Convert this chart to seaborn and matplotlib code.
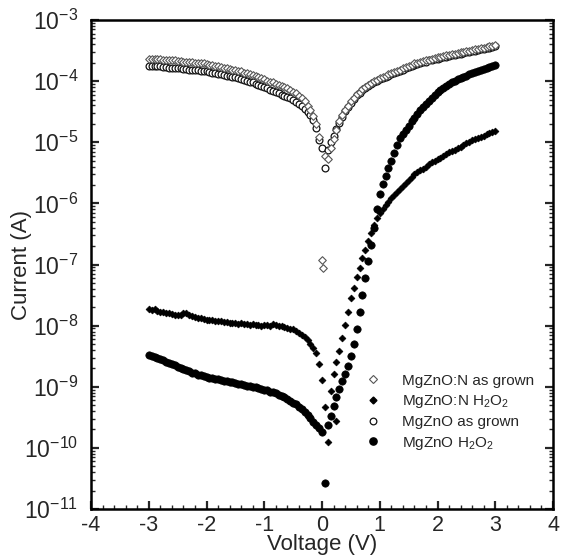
import numpy as np
import pandas as pd
import matplotlib
matplotlib.use("Agg")
import matplotlib.pyplot as plt
from matplotlib.lines import Line2D
from matplotlib.ticker import MultipleLocator, FixedLocator, NullFormatter
import seaborn as sns

# ---------------- data (log10 of |current| in A) ----------------
voltage = np.round(np.linspace(-3.0, 3.0, 121), 2)

mgznon_grown_log = [
    -3.63, -3.63, -3.64, -3.64, -3.64, -3.65, -3.65, -3.66, -3.66, -3.66,
    -3.67, -3.67, -3.68, -3.68, -3.69, -3.69, -3.70, -3.70, -3.71, -3.71,
    -3.72, -3.73, -3.74, -3.75, -3.76, -3.77, -3.78, -3.79, -3.80, -3.81,
    -3.82, -3.83, -3.84, -3.86, -3.87, -3.88, -3.90, -3.91, -3.93, -3.95,
    -3.97, -3.99, -4.01, -4.02, -4.04, -4.06, -4.08, -4.10, -4.12, -4.14,
    -4.17, -4.20, -4.24, -4.28, -4.33, -4.40, -4.47, -4.57, -4.70, -4.92,
    -6.92,
    -5.22, -5.28, -5.10, -4.95, -4.80, -4.65, -4.55, -4.47, -4.40, -4.33,
    -4.27, -4.21, -4.17, -4.13, -4.09, -4.06, -4.03, -4.00, -3.98, -3.95,
    -3.93, -3.91, -3.89, -3.87, -3.85, -3.83, -3.81, -3.79, -3.77, -3.75,
    -3.73, -3.71, -3.70, -3.68, -3.67, -3.66, -3.65, -3.63, -3.62, -3.61,
    -3.60, -3.59, -3.58, -3.57, -3.56, -3.55, -3.54, -3.53, -3.52, -3.51,
    -3.50, -3.49, -3.48, -3.47, -3.46, -3.45, -3.44, -3.43, -3.42, -3.41,
]

mgznon_h2o2_log = [
    -7.72, -7.74, -7.73, -7.76, -7.77, -7.78, -7.80, -7.79, -7.81, -7.82,
    -7.83, -7.82, -7.80, -7.79, -7.83, -7.85, -7.86, -7.87, -7.88, -7.89,
    -7.90, -7.90, -7.91, -7.92, -7.92, -7.93, -7.94, -7.94, -7.95, -7.96,
    -7.96, -7.97, -7.96, -7.98, -7.98, -7.99, -7.98, -7.99, -7.99, -8.00,
    -7.99, -7.99, -8.00, -7.98, -7.99, -8.01, -8.01, -8.02, -8.04, -8.05,
    -8.06, -8.09, -8.12, -8.15, -8.19, -8.24, -8.30, -8.36, -8.45, -8.62,
    -8.89,
    -9.33, -9.91, -9.07, -8.79, -8.60, -8.41, -8.21, -7.99, -7.78, -7.55,
    -7.38, -7.21, -7.05, -6.90, -6.76, -6.62, -6.48, -6.35, -6.24, -6.16,
    -6.09, -6.02, -5.97, -5.92, -5.87, -5.82, -5.77, -5.72, -5.67, -5.62,
    -5.57, -5.52, -5.49, -5.46, -5.43, -5.40, -5.36, -5.33, -5.30, -5.27,
    -5.25, -5.22, -5.19, -5.16, -5.14, -5.12, -5.09, -5.07, -5.04, -5.02,
    -4.99, -4.97, -4.95, -4.93, -4.91, -4.89, -4.87, -4.85, -4.83, -4.81,
]

mgzno_grown_log = [
    -3.75, -3.75, -3.76, -3.76, -3.76, -3.77, -3.77, -3.78, -3.78, -3.78,
    -3.79, -3.79, -3.80, -3.80, -3.81, -3.81, -3.82, -3.82, -3.83, -3.83,
    -3.84, -3.85, -3.86, -3.87, -3.88, -3.89, -3.90, -3.91, -3.92, -3.93,
    -3.94, -3.95, -3.97, -3.98, -3.99, -4.01, -4.02, -4.04, -4.06, -4.08,
    -4.10, -4.12, -4.14, -4.16, -4.18, -4.20, -4.22, -4.24, -4.26, -4.28,
    -4.31, -4.34, -4.37, -4.41, -4.45, -4.50, -4.56, -4.64, -4.76, -4.96,
    -5.10,
    -5.42, -5.13, -5.00, -4.89, -4.79, -4.68, -4.58, -4.49, -4.42, -4.35,
    -4.29, -4.23, -4.19, -4.15, -4.11, -4.08, -4.05, -4.02, -3.99, -3.97,
    -3.95, -3.93, -3.91, -3.89, -3.87, -3.85, -3.83, -3.81, -3.79, -3.77,
    -3.75, -3.73, -3.72, -3.70, -3.69, -3.68, -3.66, -3.65, -3.64, -3.63,
    -3.62, -3.61, -3.60, -3.59, -3.58, -3.57, -3.56, -3.55, -3.54, -3.53,
    -3.52, -3.51, -3.50, -3.49, -3.48, -3.47, -3.46, -3.45, -3.44, -3.43,
]

mgzno_h2o2_log = [
    -8.48, -8.49, -8.51, -8.53, -8.55, -8.57, -8.59, -8.61, -8.63, -8.65,
    -8.67, -8.69, -8.71, -8.73, -8.75, -8.77, -8.78, -8.80, -8.81, -8.83,
    -8.84, -8.85, -8.86, -8.87, -8.88, -8.89, -8.90, -8.91, -8.92, -8.93,
    -8.94, -8.95, -8.96, -8.97, -8.98, -8.99, -9.00, -9.01, -9.02, -9.04,
    -9.05, -9.06, -9.08, -9.09, -9.11, -9.13, -9.15, -9.17, -9.20, -9.23,
    -9.26, -9.29, -9.33, -9.37, -9.41, -9.46, -9.51, -9.57, -9.62, -9.68,
    -9.74,
    -10.58, -9.62, -9.48, -9.32, -9.17, -9.04, -8.91, -8.79, -8.66, -8.50,
    -8.30, -8.05, -7.78, -7.50, -7.22, -6.95, -6.68, -6.40, -6.10, -5.85,
    -5.68, -5.55, -5.42, -5.30, -5.18, -5.05, -4.93, -4.86, -4.80, -4.73,
    -4.66, -4.60, -4.53, -4.47, -4.42, -4.37, -4.32, -4.27, -4.22, -4.18,
    -4.14, -4.11, -4.08, -4.05, -4.02, -3.99, -3.97, -3.95, -3.93, -3.91,
    -3.89, -3.87, -3.85, -3.84, -3.82, -3.80, -3.79, -3.77, -3.76, -3.74,
]

# extra points recorded near the zero-current crossing
extra_n_grown_v = [0.02]
extra_n_grown_log = [-7.05]
extra_n_h2o2_v = [0.25]
extra_n_h2o2_log = [-9.56]

series_names = ["MgZnO:N as grown", "MgZnO:N H$_2$O$_2$",
                "MgZnO as grown", "MgZnO H$_2$O$_2$"]

x_tick_values = [-4, -3, -2, -1, 0, 1, 2, 3, 4]
y_tick_exponents = [-11, -10, -9, -8, -7, -6, -5, -4, -3]

# ---------------- build tidy frame ----------------
frames = []
for name, logs, xv in [
    (series_names[0], mgznon_grown_log + extra_n_grown_log, list(voltage) + extra_n_grown_v),
    (series_names[1], mgznon_h2o2_log + extra_n_h2o2_log, list(voltage) + extra_n_h2o2_v),
    (series_names[2], mgzno_grown_log, list(voltage)),
    (series_names[3], mgzno_h2o2_log, list(voltage)),
]:
    frames.append(pd.DataFrame({"V": xv, "I": 10.0 ** np.array(logs), "series": name}))
df = pd.concat(frames, ignore_index=True)

# ---------------- style ----------------
sns.set_theme(style="ticks")
plt.rcParams["font.family"] = ["Liberation Sans", "DejaVu Sans"]
plt.rcParams["mathtext.default"] = "regular"
plt.rcParams["axes.linewidth"] = 1.8

fig = plt.figure(figsize=(5.68, 5.58), dpi=100)
ax = fig.add_axes([91 / 568, 1 - 509 / 558, 462 / 568, 489 / 558])

styles = {
    series_names[2]: dict(marker="o", s=24, facecolor="white", edgecolor="#111111", linewidth=0.9),
    series_names[0]: dict(marker="D", s=15, facecolor="white", edgecolor="#555555", linewidth=0.8),
    series_names[3]: dict(marker="o", s=28, facecolor="black", edgecolor="black", linewidth=0.5),
    series_names[1]: dict(marker="D", s=12, facecolor="black", edgecolor="black", linewidth=0.5),
}
for name in [series_names[2], series_names[0], series_names[3], series_names[1]]:
    st = styles[name]
    sub = df[df["series"] == name]
    sns.scatterplot(data=sub, x="V", y="I", ax=ax, marker=st["marker"], s=st["s"],
                    color=st["facecolor"], edgecolor=st["edgecolor"],
                    linewidth=st["linewidth"], legend=False, zorder=3)

ax.set_yscale("log")
ax.set_xlim(-4, 4)
ax.set_ylim(1e-11, 1e-3)

# ticks: only inside the visible range
ax.set_xticks(x_tick_values)
ax.set_xticklabels([str(v) for v in x_tick_values])
ax.xaxis.set_minor_locator(MultipleLocator(0.2))
ax.xaxis.set_minor_formatter(NullFormatter())
y_major = [10.0 ** e for e in y_tick_exponents]
ax.set_yticks(y_major)
ax.set_yticklabels([f"$10^{{{e}}}$" for e in y_tick_exponents])
y_minor = [m * 10.0 ** e for e in y_tick_exponents[:-1] for m in range(2, 10)]
ax.yaxis.set_minor_locator(FixedLocator(y_minor))
ax.yaxis.set_minor_formatter(NullFormatter())

ax.tick_params(axis="both", which="major", direction="in", length=6, width=1.6,
               top=False, right=True)
ax.tick_params(axis="x", which="major", labelsize=15.5, pad=4)
ax.tick_params(axis="y", which="major", labelsize=16.5, pad=9)
ax.tick_params(axis="both", which="minor", direction="in", length=3, width=1.0,
               top=False, right=True)
for sp in ax.spines.values():
    sp.set_linewidth(1.8)
    sp.set_color("black")

ax.set_xlabel("Voltage (V)", fontsize=16)
ax.set_ylabel("Current (A)", fontsize=16)
ax.xaxis.set_label_coords(0.5, -0.052)
ax.yaxis.set_label_coords(-0.128, 0.5)

handles = [
    Line2D([], [], linestyle="none", marker="D", markersize=3.8, markerfacecolor="white",
           markeredgecolor="#555555", markeredgewidth=0.8),
    Line2D([], [], linestyle="none", marker="D", markersize=3.5, markerfacecolor="black",
           markeredgecolor="black"),
    Line2D([], [], linestyle="none", marker="o", markersize=4.8, markerfacecolor="white",
           markeredgecolor="#111111", markeredgewidth=0.9),
    Line2D([], [], linestyle="none", marker="o", markersize=5.2, markerfacecolor="black",
           markeredgecolor="black"),
]
ax.legend(handles, series_names, loc="upper left", bbox_to_anchor=(0.59, 0.277),
          frameon=False, fontsize=11, handlelength=1.2, handletextpad=1.3,
          labelspacing=0.35, borderpad=0, borderaxespad=0)

fig.savefig("out.png", dpi=100)
